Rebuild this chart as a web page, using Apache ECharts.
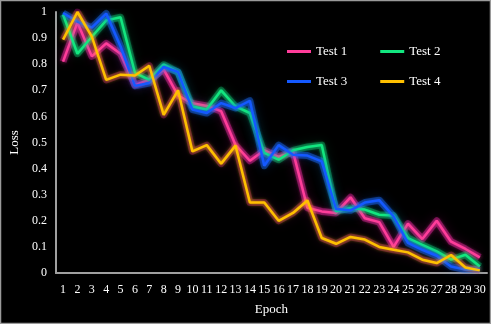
<!DOCTYPE html>
<html><head><meta charset="utf-8">
<script src="https://cdn.jsdelivr.net/npm/echarts@6/dist/echarts.min.js"></script>
<style>html,body{margin:0;padding:0;background:#000;}#c{width:491px;height:324px;}</style>
</head><body><div id="c"></div>
<script>
var epochs = ['1','2','3','4','5','6','7','8','9','10','11','12','13','14','15','16','17','18','19','20','21','22','23','24','25','26','27','28','29','30'];
var test1 = [0.81,0.96,0.83,0.88,0.84,0.72,0.74,0.78,0.68,0.65,0.64,0.62,0.49,0.43,0.47,0.445,0.465,0.25,0.236,0.23,0.29,0.21,0.195,0.10,0.189,0.13,0.20,0.12,0.092,0.06];
var test2 = [0.99,0.84,0.905,0.968,0.98,0.767,0.74,0.798,0.77,0.638,0.626,0.70,0.638,0.613,0.46,0.434,0.47,0.483,0.49,0.236,0.249,0.243,0.223,0.22,0.134,0.108,0.083,0.051,0.07,0.025];
var test3 = [0.996,0.963,0.94,0.994,0.868,0.717,0.728,0.79,0.77,0.626,0.613,0.651,0.632,0.66,0.411,0.49,0.453,0.45,0.428,0.245,0.24,0.27,0.279,0.217,0.115,0.089,0.066,0.025,0.013,0.013];
var test4 = [0.894,1.0,0.906,0.74,0.76,0.757,0.794,0.606,0.70,0.466,0.49,0.419,0.488,0.27,0.27,0.20,0.23,0.278,0.134,0.112,0.138,0.128,0.10,0.089,0.079,0.051,0.038,0.069,0.021,0.01];
var names = ['Test 1','Test 2','Test 3','Test 4'];
var colors = ['#ff3d9a','#12e67f','#1459ff','#ffc000'];
var glows = ['rgba(235,30,170,0.4)','rgba(20,210,120,0.35)','rgba(30,120,255,0.4)','rgba(200,20,140,0.35)'];
var yTicks = {min:0,max:1,interval:0.1};

var chart = echarts.init(document.getElementById('c'), null, {renderer:'canvas'});
var datas = [test1,test2,test3,test4];
var series = [];
datas.forEach(function(d,i){
  series.push({name:names[i]+' glow',type:'line',data:d,symbol:'none',silent:true,z:1,
    lineStyle:{color:glows[i],width:7,shadowBlur:12,shadowColor:glows[i],join:'round'},
    tooltip:{show:false}});
});
datas.forEach(function(d,i){
  series.push({name:names[i],type:'line',data:d,symbol:'none',z:3,
    lineStyle:{color:colors[i],width:2.5,shadowBlur:4,shadowColor:colors[i]},
    itemStyle:{color:colors[i]}});
});
var font = 'Liberation Serif';
chart.setOption({
  backgroundColor:'#000',
  animation:false,
  color:colors,
  graphic:[{type:'rect',shape:{x:0.5,y:0.5,width:490,height:323},style:{fill:'none',stroke:'#9a9a9a',lineWidth:1.5},z:100}],
  legend:[
    {data:['Test 1','Test 2'],left:282,top:40,itemWidth:24,itemHeight:3,icon:'rect',itemGap:33,
     textStyle:{color:'#fff',fontFamily:font,fontSize:13}},
    {data:['Test 3','Test 4'],left:282,top:70,itemWidth:24,itemHeight:3,icon:'rect',itemGap:33,
     textStyle:{color:'#fff',fontFamily:font,fontSize:13}}
  ],
  grid:{left:49,right:4,top:12,bottom:51},
  xAxis:{type:'category',data:epochs,boundaryGap:true,
    name:'Epoch',nameLocation:'middle',nameGap:30,
    nameTextStyle:{color:'#fff',fontFamily:font,fontSize:13},
    axisLine:{lineStyle:{color:'#a0a0a0',width:2}},axisTick:{show:false},
    axisLabel:{color:'#fff',fontFamily:font,fontSize:12,interval:0,margin:11}},
  yAxis:{type:'value',min:yTicks.min,max:yTicks.max,interval:yTicks.interval,
    name:'Loss',nameLocation:'middle',nameGap:32,
    nameTextStyle:{color:'#fff',fontFamily:font,fontSize:13},
    axisLine:{show:true,lineStyle:{color:'#a0a0a0',width:2}},axisTick:{show:false},splitLine:{show:false},
    axisLabel:{color:'#fff',fontFamily:font,fontSize:12,margin:9,
      formatter:function(v){return String(Math.round(v*10)/10);}}},
  series:series
});
</script></body></html>
